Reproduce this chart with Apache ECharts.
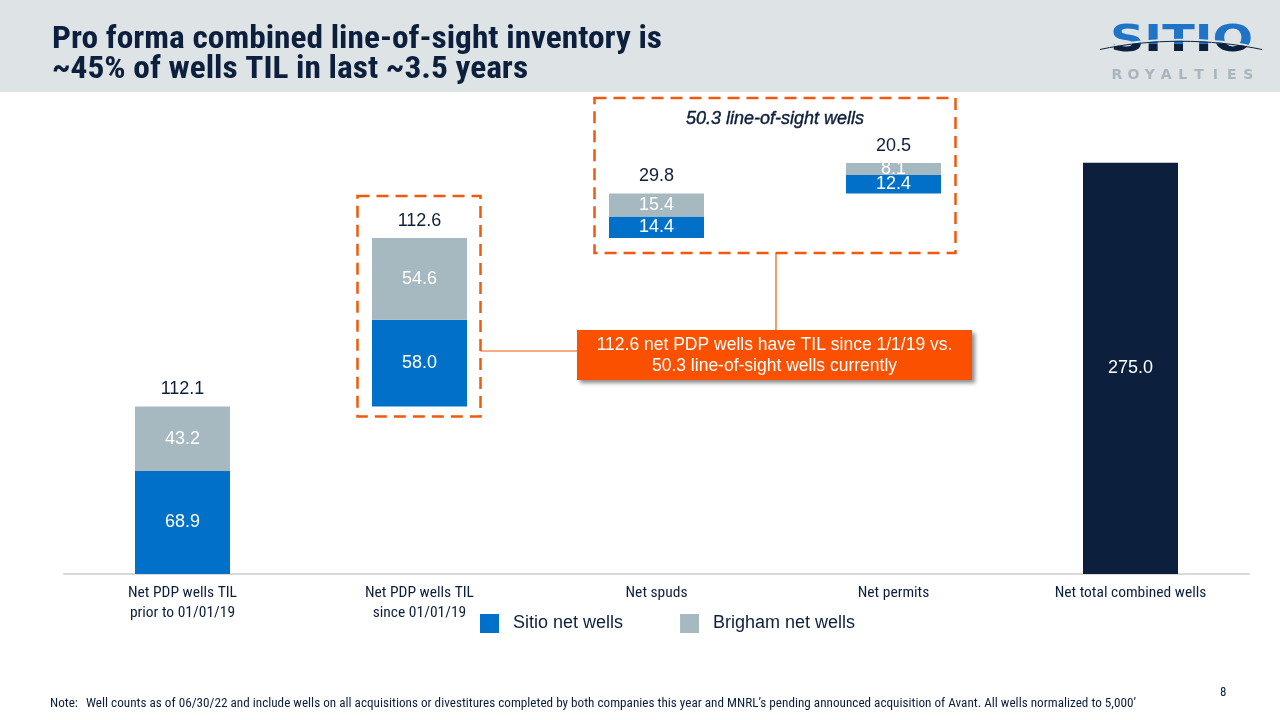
<!DOCTYPE html>
<html><head><meta charset="utf-8">
<script src="https://cdn.jsdelivr.net/npm/echarts@6/dist/echarts.min.js"></script>
<style>html,body{margin:0;padding:0;background:#fff;}#c{width:1280px;height:720px;}</style>
</head><body><div id="c"></div>
<script>
const categories = ['Net PDP wells TIL\nprior to 01/01/19', 'Net PDP wells TIL\nsince 01/01/19', 'Net spuds', 'Net permits', 'Net total combined wells'];
const baseValues = [0, 112.1, 224.7, 254.5, 0];
const sitioValues = [68.9, 58.0, 14.4, 12.4, null];
const brighamValues = [43.2, 54.6, 15.4, 8.1, null];
const stepTotals = [112.1, 112.6, 29.8, 20.5, null];
const combinedTotal = [null, null, null, null, 275.0];

const NAVY = '#0c1f3d', BLUE = '#0070c9', GRAY = '#a6b8c0', ORANGE = '#f05a0e';
const SANS = '"Liberation Sans", Arial, sans-serif';
const COND = '"Roboto Condensed", "Liberation Sans Narrow", sans-serif';
const chart = echarts.init(document.getElementById('c'));
const valFont = {fontFamily: SANS, fontSize: 18};

const mctx = document.createElement('canvas').getContext('2d');
function measure(text, font) { mctx.font = font; return mctx.measureText(text).width; }

chart.setOption({
  animation: false,
  grid: {left: 64, right: 31, top: 125.5, bottom: 146},
  legend: {
    data: ['Sitio net wells', 'Brigham net wells'],
    left: 480, top: 614, padding: 0, itemWidth: 19, itemHeight: 19, itemGap: 57, icon: 'rect',
    textStyle: {fontFamily: SANS, fontSize: 18, color: NAVY, padding: [0, 0, 0, 9]}
  },
  xAxis: {
    type: 'category', data: categories,
    axisLine: {lineStyle: {color: '#d9d9d9', width: 2}},
    axisTick: {show: false},
    axisLabel: {fontFamily: COND, fontSize: 15.5, color: NAVY, lineHeight: 20, margin: 9}
  },
  yAxis: {type: 'value', min: 0, max: 300, show: false, splitLine: {show: false}},
  series: [
    {name: 'base', type: 'bar', stack: 'w', data: baseValues, barWidth: 95, itemStyle: {color: 'transparent'}, silent: true},
    {name: 'Sitio net wells', type: 'bar', stack: 'w', data: sitioValues, itemStyle: {color: BLUE},
      label: {show: true, position: 'inside', color: '#fff', ...valFont, formatter: p => p.value.toFixed(1)}},
    {name: 'Brigham net wells', type: 'bar', stack: 'w', data: brighamValues, itemStyle: {color: GRAY},
      label: {show: true, position: 'inside', color: '#fff', ...valFont, formatter: p => p.value.toFixed(1)}},
    {name: 'tot', type: 'bar', stack: 'w', data: stepTotals.map(() => 0.0001), itemStyle: {color: 'transparent'},
      label: {show: true, position: 'top', distance: 8, color: NAVY, ...valFont,
        formatter: p => stepTotals[p.dataIndex] == null ? '' : stepTotals[p.dataIndex].toFixed(1)}},
    {name: 'Combined', type: 'bar', stack: 'w', data: combinedTotal, itemStyle: {color: NAVY},
      label: {show: true, position: 'inside', color: '#fff', ...valFont, formatter: p => p.value.toFixed(1)}}
  ]
});

// Annotation geometry anchored to data positions
const px = (i, v) => chart.convertToPixel({xAxisIndex: 0, yAxisIndex: 0}, [i, v]);
const b2top = px(1, 224.7), b2bot = px(1, 112.1);
const b3 = px(2, 224.7), b4 = px(3, 275);
const box1 = {x: b2top[0] - 62, y: b2top[1] - 42, w: 123, h: (b2bot[1] + 10) - (b2top[1] - 42)};
const box2 = {x: b3[0] - 62, y: 98, w: (b4[0] + 62) - (b3[0] - 62), h: (b3[1] + 15) - 98};
const call = {x: 577, y: 330, w: 395, h: 50};
const dash = {stroke: ORANGE, fill: 'transparent', lineWidth: 2.5, lineDash: [12, 7]};

const title1 = 'Pro forma combined line-of-sight inventory is';
const titleScale = 610 / measure(title1, 'bold 32px ' + COND);
const noteText = 'Well counts as of 06/30/22 and include wells on all acquisitions or divestitures completed by both companies this year and MNRL\u2019s pending announced acquisition of Avant. All wells normalized to 5,000\u2019';
const noteScale = 1050 / measure(noteText, '13px ' + COND);
const logoScale = 143 / measure('SITIO', 'bold 37px "DejaVu Sans"');

const logoLetters = 'ROYALTIES'.split('');
const LY = 4; // logo vertical offset
const graphics = [
  {type: 'rect', z: -10, shape: {x: 0, y: 0, width: 1280, height: 92}, style: {fill: '#dee3e6'}},
  {type: 'text', x: 52, y: 25, scaleX: titleScale, style: {text: title1 + '\n~45% of wells TIL in last ~3.5 years',
    fontFamily: COND, fontWeight: 'bold', fontSize: 32, fill: NAVY, lineHeight: 30}},
  // logo (separate layer so the two-tone fill can be composited onto the letters only)
  {type: 'text', zlevel: 1, z: 1, x: 1110, y: 19 + LY, scaleX: logoScale, style: {text: 'SITIO', x: 0, y: 0, fontFamily: '"DejaVu Sans"', fontWeight: 'bold', fontSize: 37, fill: '#1f74c8'}},
  {type: 'rect', zlevel: 1, z: 2, shape: {x: 1100, y: 40 + LY, width: 165, height: 20}, style: {fill: NAVY, blend: 'source-atop'}},
  {type: 'bezierCurve', zlevel: 1, z: 3, shape: {x1: 1100, y1: 44 + LY, x2: 1262, y2: 44 + LY, cpx1: 1150, cpy1: 33 + LY, cpx2: 1210, cpy2: 33 + LY}, style: {stroke: '#dee3e6', lineWidth: 2, fill: 'none'}},
  {type: 'bezierCurve', zlevel: 1, z: 4, shape: {x1: 1100, y1: 45.5 + LY, x2: 1262, y2: 45.5 + LY, cpx1: 1150, cpy1: 34.5 + LY, cpx2: 1210, cpy2: 34.5 + LY}, style: {stroke: NAVY, lineWidth: 1, fill: 'none'}},
  ...logoLetters.map((ch, i) => ({type: 'text', x: 1117 + i * 16.4, y: 75,
    style: {text: ch, fontFamily: '"DejaVu Sans"', fontWeight: 'bold', fontSize: 14, fill: '#a8b5bd', align: 'center', verticalAlign: 'middle'}})),
  // dashed boxes
  {type: 'rect', shape: {x: box1.x, y: box1.y, width: box1.w, height: box1.h}, style: dash},
  {type: 'rect', shape: {x: box2.x, y: box2.y, width: box2.w, height: box2.h}, style: dash},
  {type: 'text', style: {text: '50.3 line-of-sight wells', x: box2.x + box2.w / 2, y: 119, align: 'center', verticalAlign: 'middle',
    fontFamily: SANS, fontStyle: 'italic', fontSize: 18, fill: NAVY, stroke: NAVY, lineWidth: 0.4}},
  // connectors
  {type: 'line', shape: {x1: box1.x + box1.w, y1: 351, x2: call.x, y2: 351}, style: {stroke: ORANGE, lineWidth: 1.2}},
  {type: 'line', shape: {x1: 776, y1: box2.y + box2.h, x2: 776, y2: call.y}, style: {stroke: ORANGE, lineWidth: 1.2}},
  // callout
  {type: 'rect', shape: {x: call.x, y: call.y, width: call.w, height: call.h},
    style: {fill: '#fa5000', shadowBlur: 4, shadowOffsetX: 3, shadowOffsetY: 3, shadowColor: 'rgba(0,0,0,0.45)'}},
  {type: 'text', style: {text: '112.6 net PDP wells have TIL since 1/1/19 vs.\n50.3 line-of-sight wells currently',
    x: call.x + call.w / 2, y: call.y + call.h / 2 + 1, align: 'center', verticalAlign: 'middle',
    fontFamily: SANS, fontSize: 17.5, fill: '#fff', lineHeight: 21}},
  // footer
  {type: 'text', x: 50, y: 697, scaleX: noteScale, style: {text: 'Note:', fontFamily: COND, fontSize: 13, fill: NAVY}},
  {type: 'text', x: 86, y: 697, scaleX: noteScale, style: {text: noteText, fontFamily: COND, fontSize: 13, fill: NAVY}},
  {type: 'text', x: 1220, y: 686, style: {text: '8', fontFamily: COND, fontSize: 13, fill: NAVY}}
];
chart.setOption({graphic: graphics});
</script></body></html>
